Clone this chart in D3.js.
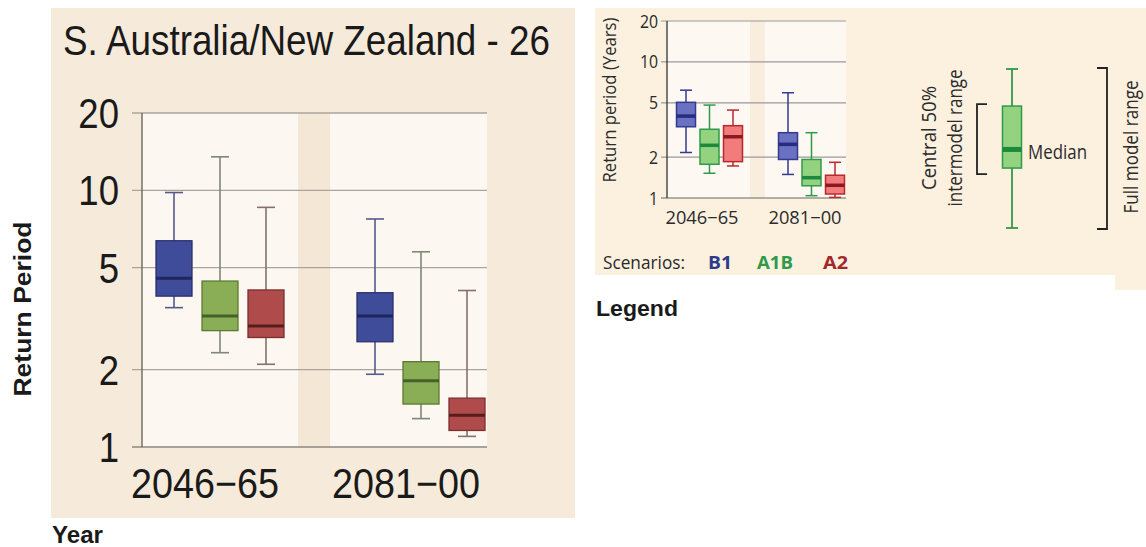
<!DOCTYPE html>
<html>
<head>
<meta charset="utf-8">
<script src="https://cdn.jsdelivr.net/npm/d3@7"></script>
<style>
  html, body { margin: 0; padding: 0; background: #ffffff; }
  svg { display: block; }
</style>
</head>
<body>
<svg id="chart" width="1146" height="547"></svg>
<script>
// ---- data ----
const periods = ["2046\u221265", "2081\u221200"];
const scenarios = ["B1", "A1B", "A2"];
const yTicks = [1, 2, 5, 10, 20];

// Regional panel: return period statistics per scenario, [2046-65, 2081-00]
const regionLow    = { B1: [3.49, 1.92], A1B: [2.33, 1.29], A2: [2.10, 1.10] };
const regionQ1     = { B1: [3.87, 2.57], A1B: [2.84, 1.47], A2: [2.67, 1.16] };
const regionMedian = { B1: [4.54, 3.24], A1B: [3.24, 1.81], A2: [2.96, 1.33] };
const regionQ3     = { B1: [6.36, 3.99], A1B: [4.43, 2.15], A2: [4.09, 1.55] };
const regionHigh   = { B1: [9.8, 7.73],  A1B: [13.5, 5.76], A2: [8.58, 4.07] };

// Global example panel used in the legend
const globalLow    = { B1: [2.16, 1.49], A1B: [1.52, 1.04], A2: [1.72, 1.01] };
const globalQ1     = { B1: [3.34, 1.92], A1B: [1.77, 1.23], A2: [1.85, 1.07] };
const globalMedian = { B1: [4.0, 2.48],  A1B: [2.44, 1.41], A2: [2.82, 1.24] };
const globalQ3     = { B1: [5.05, 3.02], A1B: [3.2, 1.92],  A2: [3.4, 1.47] };
const globalHigh   = { B1: [6.2, 5.94],  A1B: [4.82, 3.02], A2: [4.43, 1.83] };

// Key box (relative positions along the full model range)
const keyStats = { lo: 0, q1: 0.377, med: 0.494, q3: 0.767, hi: 1 };

const svg = d3.select("#chart");

function buildRows(lo, q1, med, q3, hi) {
  const rows = [];
  periods.forEach((p, i) => scenarios.forEach(s => rows.push({
    period: p, scen: s, lo: lo[s][i], q1: q1[s][i], med: med[s][i], q3: q3[s][i], hi: hi[s][i]
  })));
  return rows;
}

// ---- regional panel ----
const main = {
  bg: [51, 8, 524, 510],
  plotLeft: 142, plotRight: 487, top: 113, bottom: 447,
  sep: [298, 330],
  centers: [220, 421], step: 46, boxW: 36, capW: 18,
  fill: { B1: "#3f4c99", A1B: "#8aae56", A2: "#b04b4b" },
  edge: { B1: "#2a316e", A1B: "#5c7934", A2: "#7a2f2f" },
  medC: { B1: "#1f265e", A1B: "#45602a", A2: "#561d1d" },
  whisk: { B1: "#56598c", A1B: "#7f8874", A2: "#86706b" }
};

svg.append("rect").attr("x", main.bg[0]).attr("y", main.bg[1])
  .attr("width", main.bg[2]).attr("height", main.bg[3]).attr("fill", "#f6ebda");

const yMain = d3.scaleLog().domain([1, 20]).range([main.bottom, main.top]);
const xMain = d3.scalePoint().domain(periods).range(main.centers);
const sMain = d3.scaleBand().domain(scenarios).range([-1.5 * main.step, 1.5 * main.step]);

// plot panels
svg.append("rect").attr("x", main.plotLeft).attr("y", main.top)
  .attr("width", main.sep[0] - main.plotLeft).attr("height", main.bottom - main.top).attr("fill", "#fcf8f1");
svg.append("rect").attr("x", main.sep[1]).attr("y", main.top)
  .attr("width", main.plotRight - main.sep[1]).attr("height", main.bottom - main.top).attr("fill", "#fcf8f1");
svg.append("rect").attr("x", main.sep[0]).attr("y", main.top)
  .attr("width", main.sep[1] - main.sep[0]).attr("height", main.bottom - main.top).attr("fill", "#f4e7d6");

// grid lines + ticks
svg.append("g").selectAll("line").data(yTicks).join("line")
  .attr("x1", main.plotLeft - 10).attr("x2", main.plotRight)
  .attr("y1", d => yMain(d)).attr("y2", d => yMain(d))
  .attr("stroke", d => d === 1 ? "#8c8880" : "#aaa59c").attr("stroke-width", 1.3);
svg.append("line").attr("x1", main.plotLeft).attr("x2", main.plotLeft)
  .attr("y1", main.top).attr("y2", main.bottom).attr("stroke", "#6b6660").attr("stroke-width", 1.4);

// tick labels (condensed)
svg.append("g").selectAll("text").data(yTicks).join("text")
  .attr("transform", d => `translate(119,${yMain(d) + 15}) scale(0.87,1)`)
  .attr("text-anchor", "end")
  .attr("font-family", "Liberation Sans, Arial, sans-serif").attr("font-size", 42)
  .attr("fill", "#1a1a1a").text(d => d);

// period labels
svg.append("g").selectAll("text").data(periods).join("text")
  .attr("x", d => xMain(d) - 15).attr("y", 498)
  .attr("text-anchor", "middle")
  .attr("font-family", "Liberation Sans, Arial, sans-serif").attr("font-size", 42)
  .attr("textLength", 148).attr("lengthAdjust", "spacingAndGlyphs")
  .attr("fill", "#1a1a1a").text(d => d);

// title
svg.append("text").attr("x", 63).attr("y", 55)
  .attr("font-family", "Liberation Sans, Arial, sans-serif").attr("font-size", 42)
  .attr("textLength", 487).attr("lengthAdjust", "spacingAndGlyphs")
  .attr("fill", "#1a1a1a").text("S. Australia/New Zealand - 26");

function drawBoxes(rows, cfg, y, x, s, medW, strokeW, whiskW) {
  const g = svg.append("g");
  const box = g.selectAll("g").data(rows).join("g")
    .attr("transform", d => `translate(${x(d.period) + s(d.scen) + s.bandwidth() / 2},0)`);
  box.append("line").attr("x1", 0).attr("x2", 0)
    .attr("y1", d => y(d.hi)).attr("y2", d => y(d.lo))
    .attr("stroke", d => cfg.whisk[d.scen]).attr("stroke-width", whiskW);
  box.append("line").attr("x1", -cfg.capW / 2).attr("x2", cfg.capW / 2)
    .attr("y1", d => y(d.hi)).attr("y2", d => y(d.hi))
    .attr("stroke", d => cfg.whisk[d.scen]).attr("stroke-width", whiskW);
  box.append("line").attr("x1", -cfg.capW / 2).attr("x2", cfg.capW / 2)
    .attr("y1", d => y(d.lo)).attr("y2", d => y(d.lo))
    .attr("stroke", d => cfg.whisk[d.scen]).attr("stroke-width", whiskW);
  box.append("rect").attr("x", -cfg.boxW / 2).attr("width", cfg.boxW)
    .attr("y", d => y(d.q3)).attr("height", d => y(d.q1) - y(d.q3))
    .attr("fill", d => cfg.fill[d.scen]).attr("stroke", d => cfg.edge[d.scen]).attr("stroke-width", strokeW);
  box.append("line").attr("x1", -cfg.boxW / 2).attr("x2", cfg.boxW / 2)
    .attr("y1", d => y(d.med)).attr("y2", d => y(d.med))
    .attr("stroke", d => cfg.medC[d.scen]).attr("stroke-width", medW);
}

drawBoxes(buildRows(regionLow, regionQ1, regionMedian, regionQ3, regionHigh),
  main, yMain, xMain, sMain, 3, 1.3, 1.6);

// ---- legend panel ----
svg.append("rect").attr("x", 595).attr("y", 8).attr("width", 551).attr("height", 267).attr("fill", "#fcf0df");
svg.append("rect").attr("x", 1115).attr("y", 270).attr("width", 31).attr("height", 20).attr("fill", "#fcf0df");

const mini = {
  plotLeft: 667, plotRight: 846, top: 21, bottom: 198,
  sep: [750, 765],
  centers: [709.5, 811.5], step: 23.5, boxW: 19, capW: 12,
  fill: { B1: "#6a71c1", A1B: "#93d27f", A2: "#f27c7c" },
  edge: { B1: "#323a92", A1B: "#2f9a4a", A2: "#b8282e" },
  medC: { B1: "#262c7e", A1B: "#1d893c", A2: "#8a1a20" },
  whisk: { B1: "#323a92", A1B: "#2f9a4a", A2: "#b8282e" }
};
const yMini = d3.scaleLog().domain([1, 20]).range([mini.bottom, mini.top]);
const xMini = d3.scalePoint().domain(periods).range(mini.centers);
const sMini = d3.scaleBand().domain(scenarios).range([-1.5 * mini.step, 1.5 * mini.step]);

svg.append("rect").attr("x", mini.plotLeft).attr("y", mini.top)
  .attr("width", mini.plotRight - mini.plotLeft).attr("height", mini.bottom - mini.top).attr("fill", "#fdf8f1");
svg.append("rect").attr("x", mini.sep[0]).attr("y", mini.top)
  .attr("width", mini.sep[1] - mini.sep[0]).attr("height", mini.bottom - mini.top).attr("fill", "#f9eddd");

svg.append("g").selectAll("line").data(yTicks).join("line")
  .attr("x1", mini.plotLeft - 6).attr("x2", mini.plotRight)
  .attr("y1", d => yMini(d)).attr("y2", d => yMini(d))
  .attr("stroke", d => d === 1 ? "#666" : "#9a9a9a").attr("stroke-width", 1.2);
svg.append("line").attr("x1", mini.plotLeft).attr("x2", mini.plotLeft)
  .attr("y1", mini.top).attr("y2", mini.bottom).attr("stroke", "#333").attr("stroke-width", 1.3);

const legendFont = "Open Sans, Noto Sans, sans-serif";
svg.append("g").selectAll("text").data(yTicks).join("text")
  .attr("transform", d => `translate(658,${yMini(d) + 6.5}) scale(0.88,1)`)
  .attr("text-anchor", "end")
  .attr("font-family", legendFont).attr("font-size", 18)
  .attr("fill", "#2a2a2a").text(d => d);

svg.append("g").selectAll("text").data(periods).join("text")
  .attr("x", (d, i) => [702, 805][i]).attr("y", 224)
  .attr("text-anchor", "middle")
  .attr("font-family", legendFont).attr("font-size", 18)
  .attr("textLength", 73).attr("lengthAdjust", "spacingAndGlyphs")
  .attr("fill", "#2a2a2a").text(d => d);

svg.append("text").attr("transform", "translate(610,100) rotate(-90)")
  .attr("text-anchor", "middle").attr("dy", "0.35em")
  .attr("font-family", legendFont).attr("font-size", 18)
  .attr("textLength", 165).attr("lengthAdjust", "spacingAndGlyphs")
  .attr("fill", "#2a2a2a").text("Return period (Years)");

drawBoxes(buildRows(globalLow, globalQ1, globalMedian, globalQ3, globalHigh),
  mini, yMini, xMini, sMini, 3.5, 1.5, 1.5);

// scenario labels
svg.append("text").attr("x", 603).attr("y", 269)
  .attr("font-family", legendFont).attr("font-size", 18)
  .attr("textLength", 82).attr("lengthAdjust", "spacingAndGlyphs")
  .attr("fill", "#2a2a2a").text("Scenarios:");
const scenLabel = [
  { t: "B1", x: 708, w: 24, c: "#2f3a8c" },
  { t: "A1B", x: 757, w: 36, c: "#2e9a4a" },
  { t: "A2", x: 823, w: 25, c: "#a3282c" }
];
svg.append("g").selectAll("text").data(scenLabel).join("text")
  .attr("x", d => d.x).attr("y", 269)
  .attr("font-family", legendFont).attr("font-size", 18).attr("font-weight", "bold")
  .attr("textLength", d => d.w).attr("lengthAdjust", "spacingAndGlyphs")
  .attr("fill", d => d.c).text(d => d.t);

// key box
const keyY = d3.scaleLinear().domain([0, 1]).range([228, 69]);
const keyX = 1012, keyW = 19, keyCap = 12, keyC = "#2f9a4a";
const key = svg.append("g");
key.append("line").attr("x1", keyX).attr("x2", keyX)
  .attr("y1", keyY(keyStats.hi)).attr("y2", keyY(keyStats.lo)).attr("stroke", keyC).attr("stroke-width", 1.8);
[keyStats.hi, keyStats.lo].forEach(v => key.append("line")
  .attr("x1", keyX - keyCap / 2).attr("x2", keyX + keyCap / 2)
  .attr("y1", keyY(v)).attr("y2", keyY(v)).attr("stroke", keyC).attr("stroke-width", 1.8));
key.append("rect").attr("x", keyX - keyW / 2).attr("width", keyW)
  .attr("y", keyY(keyStats.q3)).attr("height", keyY(keyStats.q1) - keyY(keyStats.q3))
  .attr("fill", "#93d27f").attr("stroke", keyC).attr("stroke-width", 1.5);
key.append("line").attr("x1", keyX - keyW / 2).attr("x2", keyX + keyW / 2)
  .attr("y1", keyY(keyStats.med)).attr("y2", keyY(keyStats.med))
  .attr("stroke", "#1d893c").attr("stroke-width", 5);

// brackets
function bracket(x, y1, y2, dir) {
  svg.append("path")
    .attr("d", `M${x + dir * 10},${y1} H${x} V${y2} H${x + dir * 10}`)
    .attr("fill", "none").attr("stroke", "#222").attr("stroke-width", 1.8);
}
bracket(977, keyY(keyStats.q3) - 2, keyY(keyStats.q1) + 6, 1);
bracket(1107, keyY(keyStats.hi) - 1, keyY(keyStats.lo) + 1, -1);

svg.append("text").attr("x", 1028).attr("y", 159)
  .attr("font-family", legendFont).attr("font-size", 20)
  .attr("textLength", 59).attr("lengthAdjust", "spacingAndGlyphs")
  .attr("fill", "#2a2a2a").text("Median");

const rotLabels = [
  { t: "Central 50%", x: 929, y: 138, w: 104 },
  { t: "intermodel range", x: 955, y: 138, w: 137 },
  { t: "Full model range", x: 1131, y: 147, w: 133 }
];
svg.append("g").selectAll("text").data(rotLabels).join("text")
  .attr("transform", d => `translate(${d.x},${d.y}) rotate(-90)`)
  .attr("text-anchor", "middle").attr("dy", "0.35em")
  .attr("font-family", legendFont).attr("font-size", 20)
  .attr("textLength", d => d.w).attr("lengthAdjust", "spacingAndGlyphs")
  .attr("fill", "#2a2a2a").text(d => d.t);

// ---- outer labels ----
const boldFont = "Liberation Sans, Arial, sans-serif";
svg.append("text").attr("x", 596).attr("y", 316)
  .attr("font-family", boldFont).attr("font-size", 22).attr("font-weight", "bold")
  .attr("textLength", 82).attr("lengthAdjust", "spacingAndGlyphs")
  .attr("fill", "#1a1a1a").text("Legend");
svg.append("text").attr("x", 52).attr("y", 543)
  .attr("font-family", boldFont).attr("font-size", 23).attr("font-weight", "bold")
  .attr("textLength", 51).attr("lengthAdjust", "spacingAndGlyphs")
  .attr("fill", "#1a1a1a").text("Year");
svg.append("text").attr("transform", "translate(31,309) rotate(-90)")
  .attr("text-anchor", "middle")
  .attr("font-family", boldFont).attr("font-size", 24).attr("font-weight", "bold")
  .attr("textLength", 175).attr("lengthAdjust", "spacingAndGlyphs")
  .attr("fill", "#1a1a1a").text("Return Period");
</script>
</body>
</html>
